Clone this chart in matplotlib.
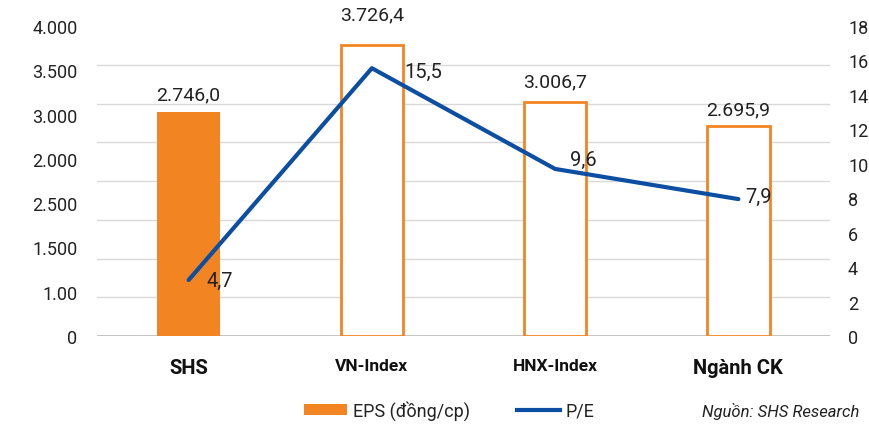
import matplotlib.pyplot as plt
import numpy as np
from matplotlib.patches import Patch
from matplotlib.lines import Line2D

plt.rcParams['font.family'] = ['Roboto', 'DejaVu Sans']

categories = ["SHS", "VN-Index", "HNX-Index", "Ngành CK"]
eps = [2890, 3755, 3020, 2710]            # bar heights as drawn
eps_labels = ["2.746,0", "3.726,4", "3.006,7", "2.695,9"]
pe = [3.25, 15.55, 9.7, 7.95]              # line as drawn
pe_labels = ["4,7", "15,5", "9,6", "7,9"]
left_ticklabels = ["0", "1.00", "1.500", "2.500", "2.000", "3.000", "3.500", "4.000"]
right_ticks = list(range(0, 19, 2))

orange = "#F28522"
blue = "#0B4EA2"

fig = plt.figure(figsize=(8.69, 4.27), dpi=100)
ax = fig.add_axes([97/869, 1 - 337/427, 733/869, 310/427])
x = np.arange(len(categories))

# bars: first filled, rest hollow
for i, v in enumerate(eps):
    if i == 0:
        ax.bar(x[i], v, width=0.34, color=orange, zorder=2)
    else:
        ax.bar(x[i], v, width=0.34, facecolor="white", edgecolor=orange,
               linewidth=2, zorder=2)

ax.set_xlim(-0.5, 3.5)
ax.set_ylim(0, 4000)
ax.set_yticks(np.linspace(0, 4000, 8))
ax.set_yticklabels(left_ticklabels)
ax.set_yticks(np.arange(0, 4001, 500), minor=True)
ax.grid(which="minor", axis="y", color="#D9D9D9", linewidth=1, zorder=0)
ax.tick_params(axis="y", which="both", length=0, labelsize=13, colors="#222222", pad=14)
ax.axhline(0, color="#BFBFBF", linewidth=2, zorder=1)
for s in ax.spines.values():
    s.set_visible(False)

ax.set_xticks(x)
ax.set_xticklabels(categories)
ax.tick_params(axis="x", length=0, pad=16)
xsizes = [14.5, 12.5, 12.5, 14.5]
for lab, fs in zip(ax.get_xticklabels(), xsizes):
    lab.set_fontweight("bold")
    lab.set_fontsize(fs)
    lab.set_color("#111111")

bar_offsets = [18, 31, 21, 17]
for i, (v, t) in enumerate(zip(eps, eps_labels)):
    ax.annotate(t, (x[i], v), xytext=(0, bar_offsets[i]), textcoords="offset pixels",
                ha="center", va="center", fontsize=14, color="#222222")

ax2 = ax.twinx()
ax2.set_ylim(0, 18)
ax2.set_yticks(right_ticks)
ax2.tick_params(axis="y", length=0, labelsize=13, colors="#222222", pad=13)
for s in ax2.spines.values():
    s.set_visible(False)
ax2.plot(x, pe, color=blue, linewidth=3, zorder=3, solid_capstyle="round")

pe_offsets = [(18, 0), (32, -3), (15, 10), (7, 3)]
for i, (v, t) in enumerate(zip(pe, pe_labels)):
    ax2.annotate(t, (x[i], v), xytext=pe_offsets[i], textcoords="offset pixels",
                 ha="left", va="center", fontsize=14.5, color="#222222")

handles = [Patch(facecolor=orange, edgecolor="none"),
           Line2D([0], [0], color=blue, linewidth=3)]
fig.legend(handles, ["EPS (đồng/cp)", "P/E"], loc="center", ncol=2,
           bbox_to_anchor=(449/869, 1 - 411/427), frameon=False, fontsize=13,
           handlelength=2.4, handleheight=0.6, handletextpad=0.3, columnspacing=2.6,
           labelcolor="#222222")
fig.text(859/869, 1 - 412/427, "Nguồn: SHS Research", ha="right", va="center",
         fontsize=12, style="italic", color="#222222")

fig.savefig("out.png", dpi=100)
